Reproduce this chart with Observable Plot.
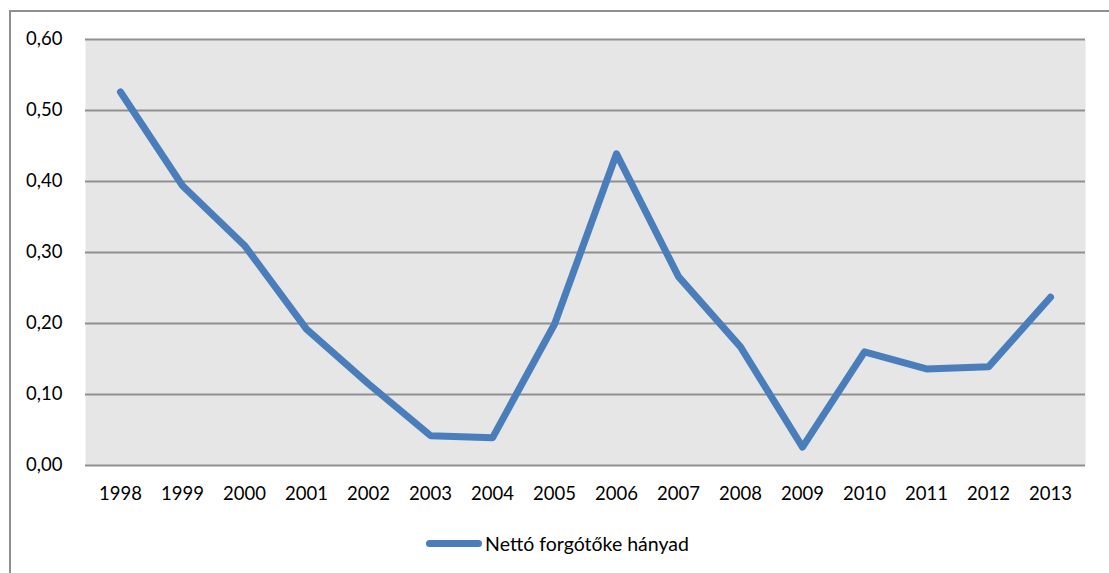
<!DOCTYPE html>
<html>
<head>
<meta charset="utf-8">
<script src="https://cdn.jsdelivr.net/npm/d3@7"></script>
<script src="https://cdn.jsdelivr.net/npm/@observablehq/plot@0.6"></script>
<style>
  html, body { margin: 0; padding: 0; background: #fff; overflow: hidden; }
  #wrap { position: relative; width: 1109px; height: 573px; font-family: Lato, "Open Sans", sans-serif; }
  #border { position: absolute; left: 9px; top: 10px; width: 1200px; height: 700px;
            border-left: 2px solid #8f8f8f; border-top: 2px solid #8f8f8f; box-sizing: border-box; }
  #chart { position: absolute; left: 0; top: 0; }
  #legend { position: absolute; left: 0; top: 532px; width: 1109px; display: flex; justify-content: center;
            align-items: center; font-size: 19.5px; color: #000; }
  #legend .swatch { width: 56px; height: 7px; border-radius: 4px; background: #4a7ebb; margin-right: 3px; margin-left: 6px; }
</style>
</head>
<body>
<div id="wrap">
  <div id="border"></div>
  <div id="chart"></div>
  <div id="legend"><span class="swatch"></span><span id="legend-label"></span></div>
</div>
<script>
// Net working capital ratio by year
const years = ["1998","1999","2000","2001","2002","2003","2004","2005","2006","2007","2008","2009","2010","2011","2012","2013"];
const ratio = [0.526, 0.394, 0.310, 0.192, 0.115, 0.042, 0.039, 0.199, 0.439, 0.266, 0.167, 0.026, 0.160, 0.136, 0.139, 0.237];
const yTicks = [0, 0.1, 0.2, 0.3, 0.4, 0.5, 0.6];
const seriesName = "Nettó forgótőke hányad";

const data = years.map((year, i) => ({year, value: ratio[i]}));
const lineColor = "#4a7ebb";
const gridColor = "#8f8f8f";

const chart = Plot.plot({
  width: 1109,
  height: 515,
  marginTop: 39,
  marginBottom: 50,
  marginLeft: 85,
  marginRight: 24,
  style: {fontFamily: "Lato, 'Open Sans', sans-serif", fontSize: "18.5px", color: "#000", background: "transparent"},
  x: {type: "point", domain: years, padding: 0.5, label: null},
  y: {domain: [0, 0.6], label: null},
  marks: [
    Plot.frame({fill: "#e6e6e6", stroke: null}),
    Plot.ruleY(yTicks, {stroke: gridColor, strokeWidth: 2}),
    Plot.ruleX([0], {frameAnchor: "left", stroke: gridColor, strokeWidth: 2}),
    Plot.axisY(yTicks, {tickSize: 0, tickPadding: 23, tickFormat: d => d.toFixed(2).replace(".", ","), fontSize: 18.5}),
    Plot.axisX(years, {tickSize: 0, tickPadding: 21, fontSize: 18.5}),
    Plot.line(data, {x: "year", y: "value", stroke: lineColor, strokeWidth: 7,
                     strokeLinecap: "round", strokeLinejoin: "round"})
  ]
});
document.getElementById("chart").appendChild(chart);
document.getElementById("legend-label").textContent = seriesName;
</script>
</body>
</html>
